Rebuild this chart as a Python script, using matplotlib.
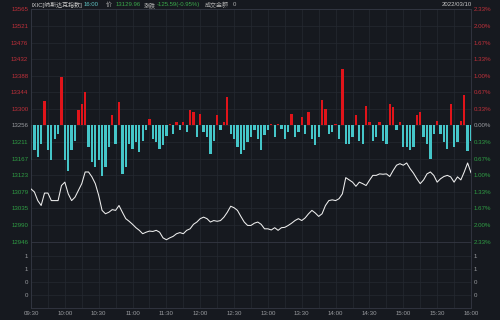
import matplotlib
matplotlib.use("Agg")
import matplotlib.pyplot as plt
import numpy as np

# ---------------- data ----------------
prev_close = 13255.55
price_ticks = [13565, 13521, 13476, 13432, 13388, 13344, 13300, 13256,
               13211, 13167, 13123, 13079, 13035, 12990, 12946]
pct_labels = ["2.33%", "2.00%", "1.67%", "1.33%", "1.00%", "0.67%", "0.33%", "0.00%",
              "0.33%", "0.67%", "1.00%", "1.33%", "1.67%", "2.00%", "2.33%"]
time_labels = ["09:30", "10:00", "10:30", "11:00", "11:30", "12:00", "12:30",
               "13:00", "13:30", "14:00", "14:30", "15:00", "15:30", "16:00"]
vol_ticks = [1.0, 0.75, 0.5, 0.25]
vol_labels = ["1", "1", "0", "0"]

# minutes since 09:30, every 3 minutes
minutes = list(range(0, 391, 3))
price = [13087, 13079, 13056, 13043, 13076, 13076, 13056, 13056, 13056, 13096,
         13105, 13074, 13056, 13065, 13083, 13101, 13132, 13132, 13119, 13101,
         13070, 13030, 13021, 13025, 13032, 13030, 13043, 13025, 13008, 13001,
         12993, 12984, 12977, 12968, 12972, 12975, 12974, 12977, 12972, 12957,
         12952, 12957, 12961, 12968, 12971, 12968, 12977, 12981, 12993, 12999,
         13008, 13012, 13008, 12999, 13003, 13001, 13003, 13012, 13025, 13041,
         13037, 13030, 13014, 12999, 12990, 12990, 12996, 12999, 12993, 12981,
         12981, 12978, 12984, 12977, 12984, 12985, 12990, 12996, 13003, 13008,
         13003, 13010, 13021, 13030, 13023, 13014, 13021, 13043, 13056, 13058,
         13056, 13061, 13074, 13117, 13111, 13105, 13094, 13105, 13101, 13096,
         13110, 13123, 13123, 13127, 13126, 13127, 13120, 13136, 13150, 13154,
         13150, 13156, 13141, 13129, 13114, 13101, 13111, 13127, 13132, 13123,
         13105, 13114, 13120, 13123, 13119, 13105, 13119, 13111, 13132, 13156,
         13130]

# strength bars (points above / below previous close), every 3 minutes
bar_vals = [-93, -66, -84, -49, 66, -66, -93, -35, -22, 129,
            -93, -120, -66, -40, 40, 58, 89, -58, -98, -111,
            -93, -133, -111, -58, 27, -49, 62, -129, -111, -49,
            -62, -44, -71, -40, -13, 18, -35, -44, -62, -53,
            -27, 4, -22, 9, -13, 9, -18, 40, 35, -31,
            31, -18, -31, -75, -40, 27, -13, 9, 75, -22,
            -35, -58, -75, -66, -44, -31, -13, -35, -66, -24,
            -13, 4, -31, 4, -9, -35, -18, 31, -31, -18,
            22, -22, 35, -35, -53, -31, 67, 44, -22, -18,
            4, -35, 151, -49, -50, -31, 27, -40, -49, 53,
            9, -40, -31, 9, -40, -49, 58, 49, -13, 9,
            -58, -58, -66, -58, 27, 35, -31, -49, -89, -22,
            13, -22, -44, -62, 58, -58, -44, 13, 80, -67,
            -40]

# ---------------- style ----------------
BG = "#16191f"
GRID = "#252931"
RED_TXT = "#c0303a"
GREEN_TXT = "#2f9e44"
GRAY_TXT = "#9a9ca0"
RED_BAR = "#e0141a"
CYAN_BAR = "#45c6c9"
NUMFONT = ["Liberation Sans", "DejaVu Sans"]
FS = 4.4

fig = plt.figure(figsize=(5, 3.2), dpi=100, facecolor=BG)
W, H = 500.0, 320.0
x0, x1 = 31, 471
y_top, y_mid, y_bot = 9, 242, 308

ax = fig.add_axes([x0 / W, (H - y_mid) / H, (x1 - x0) / W, (y_mid - y_top) / H], facecolor=BG)
axv = fig.add_axes([x0 / W, (H - y_bot) / H, (x1 - x0) / W, (y_bot - y_mid) / H], facecolor=BG)

ymin, ymax = price_ticks[-1], price_ticks[0]
tick_minutes = list(range(0, 391, 30))
minor_minutes = list(range(15, 391, 30))

for a in (ax, axv):
    a.set_xlim(0, 390)
    for s in a.spines.values():
        s.set_color("#343843")
        s.set_linewidth(0.6)
    for m in tick_minutes + minor_minutes:
        a.axvline(m, color=GRID, lw=0.5, zorder=0)

ax.set_ylim(ymin, ymax)
for p in price_ticks:
    ax.axhline(p, color=GRID, lw=0.5, zorder=0)

# bars
colors = [RED_BAR if v > 0 else CYAN_BAR for v in bar_vals]
ax.bar(minutes, bar_vals, bottom=prev_close, width=2.0, color=colors, linewidth=0, zorder=2)
# price line
ax.plot(minutes, price, color="#eeeeee", lw=0.75, zorder=3)

# left price labels
ax.set_yticks(price_ticks)
ax.set_yticklabels([str(p) for p in price_ticks], family=NUMFONT, fontsize=FS)
ax.tick_params(axis="y", length=0, pad=2)
ax.tick_params(axis="x", length=0, labelbottom=False)
for lbl, p in zip(ax.get_yticklabels(), price_ticks):
    lbl.set_color(RED_TXT if p > 13256 else (GREEN_TXT if p < 13256 else GRAY_TXT))

# right percentage labels
axr = ax.twinx()
axr.set_ylim(ymin, ymax)
axr.set_yticks(price_ticks)
axr.set_yticklabels(pct_labels, family=NUMFONT, fontsize=FS)
axr.tick_params(axis="y", length=0, pad=2)
for s in axr.spines.values():
    s.set_visible(False)
for lbl, p in zip(axr.get_yticklabels(), price_ticks):
    lbl.set_color(RED_TXT if p > 13256 else (GREEN_TXT if p < 13256 else GRAY_TXT))

# volume panel
axv.set_ylim(0, 1.27)
axv.set_yticks(vol_ticks)
axv.set_yticklabels(vol_labels, family=NUMFONT, fontsize=FS)
for v in vol_ticks:
    axv.axhline(v, color=GRID, lw=0.5, zorder=0)
axv.tick_params(axis="y", length=0, pad=2, colors=GRAY_TXT, labelright=True)
axv.set_xticks(tick_minutes)
axv.set_xticklabels(time_labels, family=NUMFONT, fontsize=FS)
axv.tick_params(axis="x", length=0, pad=2, colors=GRAY_TXT)

# header
fam = ["Liberation Sans", "Noto Sans CJK SC", "DejaVu Sans"]
def htxt(x, s, c, ha="left"):
    fig.text(x / W, 1 - 4.8 / H, s, color=c, fontsize=4.3, family=fam, ha=ha, va="center")

htxt(31, "IXIC[纳斯达克指数]", "#c8c8c8")
htxt(84, "16:00", "#5fc6c6")
htxt(106, "价", "#b0b0b0")
htxt(116, "13129.96", "#3aa84a")
htxt(144, "涨跌", "#b0b0b0")
htxt(157, "-125.59(-0.95%)", "#3aa84a")
htxt(205, "成交金额", "#b0b0b0")
htxt(233, "0", "#b0b0b0")
htxt(472, "2022/03/10", "#c8c8c8", ha="right")

fig.savefig("out.png", dpi=100, facecolor=BG)
